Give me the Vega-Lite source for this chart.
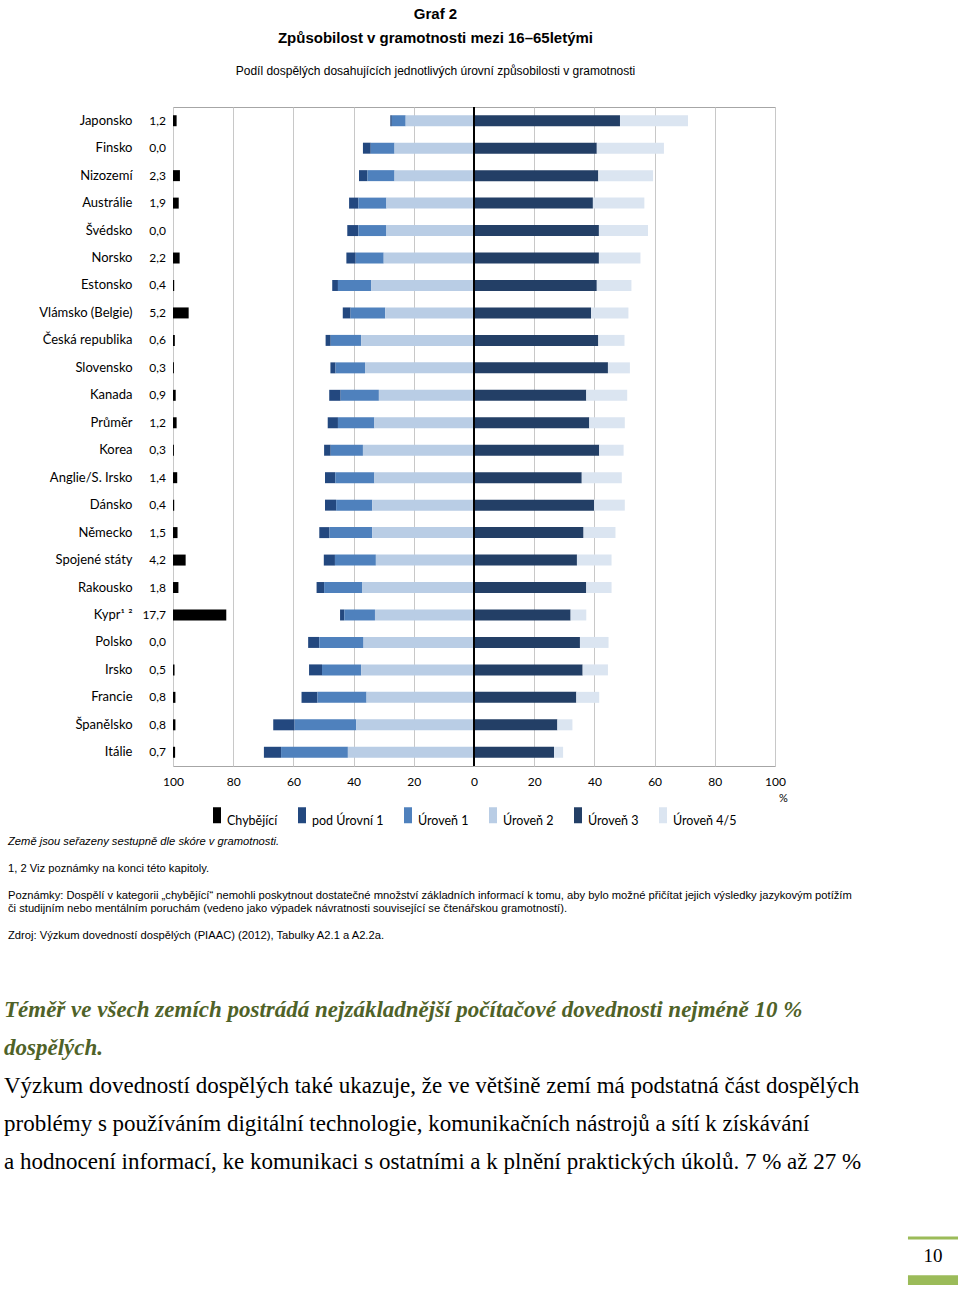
{
  "$schema": "https://vega.github.io/schema/vega-lite/v6.json",
  "padding": {"left": 4, "top": 6, "right": 0, "bottom": 0},
  "background": "white",
  "config": {
    "locale": {"number": {"decimal": ",", "thousands": " ", "grouping": [3], "currency": ["", " Kč"]}},
    "view": {"stroke": null},
    "font": "Lato"
  },
  "title": {
    "text": ["Graf 2", "Způsobilost v gramotnosti mezi 16–65letými"],
    "subtitle": "Podíl dospělých dosahujících jednotlivých úrovní způsobilosti v gramotnosti",
    "anchor": "middle",
    "dx": -47,
    "font": "Liberation Sans",
    "fontSize": 15,
    "fontWeight": "bold",
    "lineHeight": 24,
    "color": "black",
    "subtitleFont": "Liberation Sans",
    "subtitleFontSize": 12,
    "subtitleColor": "black",
    "subtitlePadding": 20,
    "offset": 29
  },
  "datasets": {
    "urovne": [
      {"zeme": "Japonsko", "uroven": "pod Úrovní 1", "stupen": 0, "podil": -0.5},
      {"zeme": "Japonsko", "uroven": "Úroveň 1", "stupen": 1, "podil": -4.6},
      {"zeme": "Japonsko", "uroven": "Úroveň 2", "stupen": 2, "podil": -22.7},
      {"zeme": "Japonsko", "uroven": "Úroveň 3", "stupen": 3, "podil": 48.5},
      {"zeme": "Japonsko", "uroven": "Úroveň 4/5", "stupen": 4, "podil": 22.6},
      {"zeme": "Finsko", "uroven": "pod Úrovní 1", "stupen": 0, "podil": -2.6},
      {"zeme": "Finsko", "uroven": "Úroveň 1", "stupen": 1, "podil": -7.9},
      {"zeme": "Finsko", "uroven": "Úroveň 2", "stupen": 2, "podil": -26.4},
      {"zeme": "Finsko", "uroven": "Úroveň 3", "stupen": 3, "podil": 40.8},
      {"zeme": "Finsko", "uroven": "Úroveň 4/5", "stupen": 4, "podil": 22.3},
      {"zeme": "Nizozemí", "uroven": "pod Úrovní 1", "stupen": 0, "podil": -2.8},
      {"zeme": "Nizozemí", "uroven": "Úroveň 1", "stupen": 1, "podil": -9.0},
      {"zeme": "Nizozemí", "uroven": "Úroveň 2", "stupen": 2, "podil": -26.4},
      {"zeme": "Nizozemí", "uroven": "Úroveň 3", "stupen": 3, "podil": 41.3},
      {"zeme": "Nizozemí", "uroven": "Úroveň 4/5", "stupen": 4, "podil": 18.2},
      {"zeme": "Austrálie", "uroven": "pod Úrovní 1", "stupen": 0, "podil": -3.1},
      {"zeme": "Austrálie", "uroven": "Úroveň 1", "stupen": 1, "podil": -9.3},
      {"zeme": "Austrálie", "uroven": "Úroveň 2", "stupen": 2, "podil": -29.1},
      {"zeme": "Austrálie", "uroven": "Úroveň 3", "stupen": 3, "podil": 39.5},
      {"zeme": "Austrálie", "uroven": "Úroveň 4/5", "stupen": 4, "podil": 17.1},
      {"zeme": "Švédsko", "uroven": "pod Úrovní 1", "stupen": 0, "podil": -3.7},
      {"zeme": "Švédsko", "uroven": "Úroveň 1", "stupen": 1, "podil": -9.3},
      {"zeme": "Švédsko", "uroven": "Úroveň 2", "stupen": 2, "podil": -29.1},
      {"zeme": "Švédsko", "uroven": "Úroveň 3", "stupen": 3, "podil": 41.5},
      {"zeme": "Švédsko", "uroven": "Úroveň 4/5", "stupen": 4, "podil": 16.3},
      {"zeme": "Norsko", "uroven": "pod Úrovní 1", "stupen": 0, "podil": -3.1},
      {"zeme": "Norsko", "uroven": "Úroveň 1", "stupen": 1, "podil": -9.3},
      {"zeme": "Norsko", "uroven": "Úroveň 2", "stupen": 2, "podil": -30.0},
      {"zeme": "Norsko", "uroven": "Úroveň 3", "stupen": 3, "podil": 41.5},
      {"zeme": "Norsko", "uroven": "Úroveň 4/5", "stupen": 4, "podil": 13.8},
      {"zeme": "Estonsko", "uroven": "pod Úrovní 1", "stupen": 0, "podil": -1.9},
      {"zeme": "Estonsko", "uroven": "Úroveň 1", "stupen": 1, "podil": -11.1},
      {"zeme": "Estonsko", "uroven": "Úroveň 2", "stupen": 2, "podil": -34.1},
      {"zeme": "Estonsko", "uroven": "Úroveň 3", "stupen": 3, "podil": 40.8},
      {"zeme": "Estonsko", "uroven": "Úroveň 4/5", "stupen": 4, "podil": 11.5},
      {"zeme": "Vlámsko (Belgie)", "uroven": "pod Úrovní 1", "stupen": 0, "podil": -2.6},
      {"zeme": "Vlámsko (Belgie)", "uroven": "Úroveň 1", "stupen": 1, "podil": -11.5},
      {"zeme": "Vlámsko (Belgie)", "uroven": "Úroveň 2", "stupen": 2, "podil": -29.5},
      {"zeme": "Vlámsko (Belgie)", "uroven": "Úroveň 3", "stupen": 3, "podil": 38.9},
      {"zeme": "Vlámsko (Belgie)", "uroven": "Úroveň 4/5", "stupen": 4, "podil": 12.4},
      {"zeme": "Česká republika", "uroven": "pod Úrovní 1", "stupen": 0, "podil": -1.7},
      {"zeme": "Česká republika", "uroven": "Úroveň 1", "stupen": 1, "podil": -10.1},
      {"zeme": "Česká republika", "uroven": "Úroveň 2", "stupen": 2, "podil": -37.5},
      {"zeme": "Česká republika", "uroven": "Úroveň 3", "stupen": 3, "podil": 41.3},
      {"zeme": "Česká republika", "uroven": "Úroveň 4/5", "stupen": 4, "podil": 8.7},
      {"zeme": "Slovensko", "uroven": "pod Úrovní 1", "stupen": 0, "podil": -1.7},
      {"zeme": "Slovensko", "uroven": "Úroveň 1", "stupen": 1, "podil": -9.8},
      {"zeme": "Slovensko", "uroven": "Úroveň 2", "stupen": 2, "podil": -36.2},
      {"zeme": "Slovensko", "uroven": "Úroveň 3", "stupen": 3, "podil": 44.5},
      {"zeme": "Slovensko", "uroven": "Úroveň 4/5", "stupen": 4, "podil": 7.3},
      {"zeme": "Kanada", "uroven": "pod Úrovní 1", "stupen": 0, "podil": -3.8},
      {"zeme": "Kanada", "uroven": "Úroveň 1", "stupen": 1, "podil": -12.7},
      {"zeme": "Kanada", "uroven": "Úroveň 2", "stupen": 2, "podil": -31.6},
      {"zeme": "Kanada", "uroven": "Úroveň 3", "stupen": 3, "podil": 37.3},
      {"zeme": "Kanada", "uroven": "Úroveň 4/5", "stupen": 4, "podil": 13.6},
      {"zeme": "Průměr", "uroven": "pod Úrovní 1", "stupen": 0, "podil": -3.4},
      {"zeme": "Průměr", "uroven": "Úroveň 1", "stupen": 1, "podil": -12.1},
      {"zeme": "Průměr", "uroven": "Úroveň 2", "stupen": 2, "podil": -33.1},
      {"zeme": "Průměr", "uroven": "Úroveň 3", "stupen": 3, "podil": 38.3},
      {"zeme": "Průměr", "uroven": "Úroveň 4/5", "stupen": 4, "podil": 11.8},
      {"zeme": "Korea", "uroven": "pod Úrovní 1", "stupen": 0, "podil": -2.2},
      {"zeme": "Korea", "uroven": "Úroveň 1", "stupen": 1, "podil": -10.7},
      {"zeme": "Korea", "uroven": "Úroveň 2", "stupen": 2, "podil": -36.9},
      {"zeme": "Korea", "uroven": "Úroveň 3", "stupen": 3, "podil": 41.6},
      {"zeme": "Korea", "uroven": "Úroveň 4/5", "stupen": 4, "podil": 8.1},
      {"zeme": "Anglie/S. Irsko", "uroven": "pod Úrovní 1", "stupen": 0, "podil": -3.4},
      {"zeme": "Anglie/S. Irsko", "uroven": "Úroveň 1", "stupen": 1, "podil": -13.0},
      {"zeme": "Anglie/S. Irsko", "uroven": "Úroveň 2", "stupen": 2, "podil": -33.1},
      {"zeme": "Anglie/S. Irsko", "uroven": "Úroveň 3", "stupen": 3, "podil": 35.8},
      {"zeme": "Anglie/S. Irsko", "uroven": "Úroveň 4/5", "stupen": 4, "podil": 13.3},
      {"zeme": "Dánsko", "uroven": "pod Úrovní 1", "stupen": 0, "podil": -3.7},
      {"zeme": "Dánsko", "uroven": "Úroveň 1", "stupen": 1, "podil": -12.0},
      {"zeme": "Dánsko", "uroven": "Úroveň 2", "stupen": 2, "podil": -33.8},
      {"zeme": "Dánsko", "uroven": "Úroveň 3", "stupen": 3, "podil": 39.9},
      {"zeme": "Dánsko", "uroven": "Úroveň 4/5", "stupen": 4, "podil": 10.2},
      {"zeme": "Německo", "uroven": "pod Úrovní 1", "stupen": 0, "podil": -3.4},
      {"zeme": "Německo", "uroven": "Úroveň 1", "stupen": 1, "podil": -14.2},
      {"zeme": "Německo", "uroven": "Úroveň 2", "stupen": 2, "podil": -33.8},
      {"zeme": "Německo", "uroven": "Úroveň 3", "stupen": 3, "podil": 36.4},
      {"zeme": "Německo", "uroven": "Úroveň 4/5", "stupen": 4, "podil": 10.6},
      {"zeme": "Spojené státy", "uroven": "pod Úrovní 1", "stupen": 0, "podil": -3.7},
      {"zeme": "Spojené státy", "uroven": "Úroveň 1", "stupen": 1, "podil": -13.6},
      {"zeme": "Spojené státy", "uroven": "Úroveň 2", "stupen": 2, "podil": -32.6},
      {"zeme": "Spojené státy", "uroven": "Úroveň 3", "stupen": 3, "podil": 34.2},
      {"zeme": "Spojené státy", "uroven": "Úroveň 4/5", "stupen": 4, "podil": 11.5},
      {"zeme": "Rakousko", "uroven": "pod Úrovní 1", "stupen": 0, "podil": -2.5},
      {"zeme": "Rakousko", "uroven": "Úroveň 1", "stupen": 1, "podil": -12.6},
      {"zeme": "Rakousko", "uroven": "Úroveň 2", "stupen": 2, "podil": -37.2},
      {"zeme": "Rakousko", "uroven": "Úroveň 3", "stupen": 3, "podil": 37.3},
      {"zeme": "Rakousko", "uroven": "Úroveň 4/5", "stupen": 4, "podil": 8.4},
      {"zeme": "Kypr¹ ²", "uroven": "pod Úrovní 1", "stupen": 0, "podil": -1.4},
      {"zeme": "Kypr¹ ²", "uroven": "Úroveň 1", "stupen": 1, "podil": -10.2},
      {"zeme": "Kypr¹ ²", "uroven": "Úroveň 2", "stupen": 2, "podil": -32.9},
      {"zeme": "Kypr¹ ²", "uroven": "Úroveň 3", "stupen": 3, "podil": 32.1},
      {"zeme": "Kypr¹ ²", "uroven": "Úroveň 4/5", "stupen": 4, "podil": 5.2},
      {"zeme": "Polsko", "uroven": "pod Úrovní 1", "stupen": 0, "podil": -3.7},
      {"zeme": "Polsko", "uroven": "Úroveň 1", "stupen": 1, "podil": -14.7},
      {"zeme": "Polsko", "uroven": "Úroveň 2", "stupen": 2, "podil": -36.7},
      {"zeme": "Polsko", "uroven": "Úroveň 3", "stupen": 3, "podil": 35.2},
      {"zeme": "Polsko", "uroven": "Úroveň 4/5", "stupen": 4, "podil": 9.5},
      {"zeme": "Irsko", "uroven": "pod Úrovní 1", "stupen": 0, "podil": -4.3},
      {"zeme": "Irsko", "uroven": "Úroveň 1", "stupen": 1, "podil": -13.0},
      {"zeme": "Irsko", "uroven": "Úroveň 2", "stupen": 2, "podil": -37.5},
      {"zeme": "Irsko", "uroven": "Úroveň 3", "stupen": 3, "podil": 36.1},
      {"zeme": "Irsko", "uroven": "Úroveň 4/5", "stupen": 4, "podil": 8.4},
      {"zeme": "Francie", "uroven": "pod Úrovní 1", "stupen": 0, "podil": -5.3},
      {"zeme": "Francie", "uroven": "Úroveň 1", "stupen": 1, "podil": -16.3},
      {"zeme": "Francie", "uroven": "Úroveň 2", "stupen": 2, "podil": -35.7},
      {"zeme": "Francie", "uroven": "Úroveň 3", "stupen": 3, "podil": 34.0},
      {"zeme": "Francie", "uroven": "Úroveň 4/5", "stupen": 4, "podil": 7.6},
      {"zeme": "Španělsko", "uroven": "pod Úrovní 1", "stupen": 0, "podil": -7.1},
      {"zeme": "Španělsko", "uroven": "Úroveň 1", "stupen": 1, "podil": -20.5},
      {"zeme": "Španělsko", "uroven": "Úroveň 2", "stupen": 2, "podil": -39.1},
      {"zeme": "Španělsko", "uroven": "Úroveň 3", "stupen": 3, "podil": 27.7},
      {"zeme": "Španělsko", "uroven": "Úroveň 4/5", "stupen": 4, "podil": 5.0},
      {"zeme": "Itálie", "uroven": "pod Úrovní 1", "stupen": 0, "podil": -5.7},
      {"zeme": "Itálie", "uroven": "Úroveň 1", "stupen": 1, "podil": -22.2},
      {"zeme": "Itálie", "uroven": "Úroveň 2", "stupen": 2, "podil": -41.9},
      {"zeme": "Itálie", "uroven": "Úroveň 3", "stupen": 3, "podil": 26.6},
      {"zeme": "Itálie", "uroven": "Úroveň 4/5", "stupen": 4, "podil": 3.0}
    ],
    "chybejici": [
      {"zeme": "Japonsko", "uroven": "Chybějící", "podil": 1.2},
      {"zeme": "Finsko", "uroven": "Chybějící", "podil": 0.0},
      {"zeme": "Nizozemí", "uroven": "Chybějící", "podil": 2.3},
      {"zeme": "Austrálie", "uroven": "Chybějící", "podil": 1.9},
      {"zeme": "Švédsko", "uroven": "Chybějící", "podil": 0.0},
      {"zeme": "Norsko", "uroven": "Chybějící", "podil": 2.2},
      {"zeme": "Estonsko", "uroven": "Chybějící", "podil": 0.4},
      {"zeme": "Vlámsko (Belgie)", "uroven": "Chybějící", "podil": 5.2},
      {"zeme": "Česká republika", "uroven": "Chybějící", "podil": 0.6},
      {"zeme": "Slovensko", "uroven": "Chybějící", "podil": 0.3},
      {"zeme": "Kanada", "uroven": "Chybějící", "podil": 0.9},
      {"zeme": "Průměr", "uroven": "Chybějící", "podil": 1.2},
      {"zeme": "Korea", "uroven": "Chybějící", "podil": 0.3},
      {"zeme": "Anglie/S. Irsko", "uroven": "Chybějící", "podil": 1.4},
      {"zeme": "Dánsko", "uroven": "Chybějící", "podil": 0.4},
      {"zeme": "Německo", "uroven": "Chybějící", "podil": 1.5},
      {"zeme": "Spojené státy", "uroven": "Chybějící", "podil": 4.2},
      {"zeme": "Rakousko", "uroven": "Chybějící", "podil": 1.8},
      {"zeme": "Kypr¹ ²", "uroven": "Chybějící", "podil": 17.7},
      {"zeme": "Polsko", "uroven": "Chybějící", "podil": 0.0},
      {"zeme": "Irsko", "uroven": "Chybějící", "podil": 0.5},
      {"zeme": "Francie", "uroven": "Chybějící", "podil": 0.8},
      {"zeme": "Španělsko", "uroven": "Chybějící", "podil": 0.8},
      {"zeme": "Itálie", "uroven": "Chybějící", "podil": 0.7}
    ]
  },
  "spacing": 56,
  "vconcat": [
    {
      "width": 602,
      "height": 659,
      "view": {"stroke": "#a6a6a6"},
      "title": {
        "text": "Země jsou seřazeny sestupně dle skóre v gramotnosti.",
        "subtitle": [
          "\u2800",
          "1, 2 Viz poznámky na konci této kapitoly.",
          "\u2800",
          "Poznámky: Dospělí v kategorii „chybějící“ nemohli poskytnout dostatečné množství základních informací k tomu, aby bylo možné přičítat jejich výsledky jazykovým potížím",
          "či studijním nebo mentálním poruchám (vedeno jako výpadek návratnosti související se čtenářskou gramotností).",
          "\u2800",
          "Zdroj: Výzkum dovedností dospělých (PIAAC) (2012), Tabulky A2.1 a A2.2a."
        ],
        "orient": "bottom",
        "anchor": "start",
        "frame": "bounds",
        "dx": 3,
        "offset": 33,
        "font": "Liberation Sans",
        "fontSize": 11.2,
        "fontStyle": "italic",
        "fontWeight": "normal",
        "color": "black",
        "subtitleFont": "Liberation Sans",
        "subtitleFontSize": 11.2,
        "subtitleColor": "black",
        "subtitleLineHeight": 13.5,
        "subtitlePadding": 2
      },
      "encoding": {
        "y": {
          "field": "zeme",
          "type": "nominal",
          "title": null,
          "scale": {
            "domain": ["Japonsko", "Finsko", "Nizozemí", "Austrálie", "Švédsko", "Norsko", "Estonsko", "Vlámsko (Belgie)", "Česká republika", "Slovensko", "Kanada", "Průměr", "Korea", "Anglie/S. Irsko", "Dánsko", "Německo", "Spojené státy", "Rakousko", "Kypr¹ ²", "Polsko", "Irsko", "Francie", "Španělsko", "Itálie"],
            "paddingInner": 0.6,
            "paddingOuter": 0.3
          },
          "axis": {
            "ticks": false,
            "domain": false,
            "labelPadding": 41,
            "labelFont": "Lato",
            "labelFontSize": 13,
            "labelColor": "black",
            "minExtent": 168,
            "labelLimit": 200
          }
        }
      },
      "layer": [
        {
          "data": {"name": "urovne"},
          "transform": [{"filter": "datum.podil < 0"}],
          "mark": {"type": "bar"},
          "encoding": {
            "x": {
              "field": "podil",
              "type": "quantitative",
              "scale": {"domain": [-100, 100], "nice": false},
              "axis": {
                "values": [-100, -80, -60, -40, -20, 0, 20, 40, 60, 80, 100],
                "labelExpr": "format(abs(datum.value), 'd')",
                "grid": true,
                "gridColor": "#c8c8c8",
                "ticks": false,
                "domain": false,
                "labelFlush": false,
                "labelPadding": 10,
                "labelFont": "Lato",
                "labelFontSize": 12,
                "labelColor": "black",
                "title": "%",
                "titleX": 610,
                "titleY": 26,
                "titleAlign": "center",
                "titleFont": "Lato",
                "titleFontSize": 11,
                "titleFontWeight": "normal",
                "titleColor": "black"
              }
            },
            "color": {
              "field": "uroven",
              "type": "nominal",
              "scale": {
                "domain": ["Chybějící", "pod Úrovní 1", "Úroveň 1", "Úroveň 2", "Úroveň 3", "Úroveň 4/5"],
                "range": ["#000000", "#23487f", "#4f81bd", "#b9cde5", "#233f66", "#dbe5f1"]
              },
              "legend": {
                "orient": "none",
                "legendX": 36,
                "legendY": 700,
                "direction": "horizontal",
                "columns": 6,
                "title": null,
                "symbolType": "M-0.5,-1H0.5V1H-0.5Z",
                "symbolSize": 256,
                "symbolStrokeWidth": 0,
                "labelFont": "Lato",
                "labelFontSize": 12.5,
                "labelColor": "black",
                "labelBaseline": "top",
                "labelOffset": 2,
                "columnPadding": 16,
                "padding": 0
              }
            },
            "order": {"field": "stupen", "type": "quantitative", "sort": "descending"}
          }
        },
        {
          "data": {"name": "urovne"},
          "transform": [{"filter": "datum.podil > 0"}],
          "mark": {"type": "bar"},
          "encoding": {
            "x": {"field": "podil", "type": "quantitative", "scale": {"domain": [-100, 100], "nice": false}, "axis": null},
            "color": {
              "field": "uroven",
              "type": "nominal",
              "scale": {
                "domain": ["Chybějící", "pod Úrovní 1", "Úroveň 1", "Úroveň 2", "Úroveň 3", "Úroveň 4/5"],
                "range": ["#000000", "#23487f", "#4f81bd", "#b9cde5", "#233f66", "#dbe5f1"]
              },
              "legend": null
            },
            "order": {"field": "stupen", "type": "quantitative", "sort": "ascending"}
          }
        },
        {
          "data": {"values": [{}]},
          "mark": {"type": "rule", "color": "black", "strokeWidth": 2},
          "encoding": {
            "x": {"datum": 0, "type": "quantitative", "scale": {"domain": [-100, 100], "nice": false}, "axis": null},
            "y": null
          }
        },
        {
          "data": {"name": "chybejici"},
          "mark": {"type": "bar"},
          "encoding": {
            "x": {"field": "podil", "type": "quantitative", "scale": {"domain": [0, 200], "nice": false}, "axis": null},
            "color": {
              "field": "uroven",
              "type": "nominal",
              "scale": {
                "domain": ["Chybějící", "pod Úrovní 1", "Úroveň 1", "Úroveň 2", "Úroveň 3", "Úroveň 4/5"],
                "range": ["#000000", "#23487f", "#4f81bd", "#b9cde5", "#233f66", "#dbe5f1"]
              },
              "legend": null
            }
          }
        },
        {
          "data": {"name": "chybejici"},
          "mark": {"type": "text", "align": "right", "baseline": "middle", "dx": -7, "font": "Lato", "fontSize": 12, "color": "black"},
          "encoding": {
            "x": {"datum": 0, "type": "quantitative", "scale": {"domain": [0, 200], "nice": false}, "axis": null},
            "text": {"field": "podil", "type": "quantitative", "format": ".1f"}
          }
        }
      ],
      "resolve": {"scale": {"x": "independent"}, "axis": {"x": "independent"}}
    },
    {
      "width": 788,
      "height": 47,
      "view": {"stroke": null},
      "title": {
        "text": ["Téměř ve všech zemích postrádá nejzákladnější počítačové dovednosti nejméně 10 %", "dospělých."],
        "subtitle": [
          "Výzkum dovedností dospělých také ukazuje, že ve většině zemí má podstatná část dospělých",
          "problémy s používáním digitální technologie, komunikačních nástrojů a sítí k získávání",
          "a hodnocení informací, ke komunikaci s ostatními a k plnění praktických úkolů. 7 % až 27 %"
        ],
        "anchor": "start",
        "frame": "bounds",
        "dx": -1,
        "font": "Liberation Serif",
        "fontSize": 23,
        "fontStyle": "italic",
        "fontWeight": "bold",
        "color": "#4f6228",
        "lineHeight": 38,
        "subtitleFont": "Liberation Serif",
        "subtitleFontSize": 23,
        "subtitleColor": "black",
        "subtitleLineHeight": 38,
        "subtitlePadding": 15,
        "offset": 63
      },
      "layer": [
        {
          "data": {"values": [{}]},
          "mark": {"type": "rule", "color": "#9bbb59", "strokeWidth": 3},
          "encoding": {
            "x": {"datum": 0.9327, "type": "quantitative", "scale": {"domain": [0, 1], "nice": false}, "axis": null},
            "x2": {"datum": 0.9962},
            "y": {"datum": 1, "type": "quantitative", "scale": {"domain": [0, 1], "nice": false}, "axis": {"labels": false, "ticks": false, "domain": false, "grid": false, "title": null, "minExtent": 168}}
          }
        },
        {
          "data": {"values": [{}]},
          "mark": {"type": "text", "font": "Liberation Serif", "fontSize": 19, "color": "black", "baseline": "middle", "align": "center"},
          "encoding": {
            "x": {"datum": 0.9645, "type": "quantitative", "scale": {"domain": [0, 1], "nice": false}, "axis": null},
            "y": {"datum": 0.62, "type": "quantitative", "scale": {"domain": [0, 1], "nice": false}},
            "text": {"value": "10"}
          }
        },
        {
          "data": {"values": [{}]},
          "mark": {"type": "rect", "color": "#9bbb59"},
          "encoding": {
            "x": {"datum": 0.9327, "type": "quantitative", "scale": {"domain": [0, 1], "nice": false}, "axis": null},
            "x2": {"datum": 0.9962},
            "y": {"datum": 0, "type": "quantitative", "scale": {"domain": [0, 1], "nice": false}},
            "y2": {"datum": 0.21}
          }
        }
      ]
    }
  ]
}
